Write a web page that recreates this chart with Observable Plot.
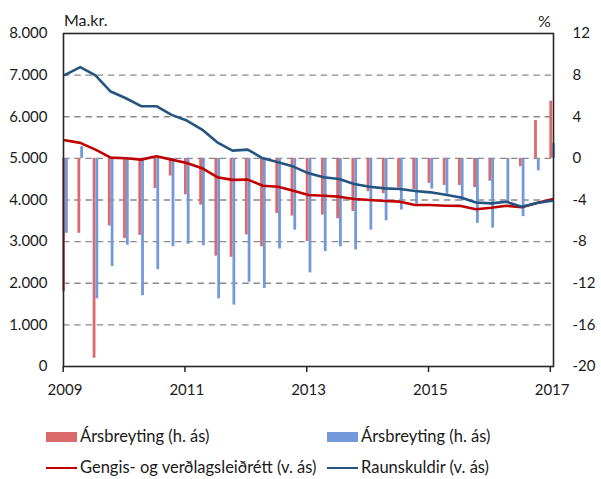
<!DOCTYPE html>
<html><head><meta charset="utf-8">
<script src="https://cdn.jsdelivr.net/npm/d3@7"></script>
<script src="https://cdn.jsdelivr.net/npm/@observablehq/plot@0.6"></script>
<style>
body{margin:0;background:#fff;}
#wrap{position:relative;width:601px;height:479px;font-family:Lato,sans-serif;color:#1a1a1a;background:#fff}
#chart{position:absolute;left:0;top:0}
.unit{position:absolute;font-size:16px;line-height:1;white-space:nowrap}
.leg{position:absolute;height:17px;font-size:16.5px;line-height:17px;white-space:nowrap;display:flex;align-items:center}
.sw{display:inline-block;width:31px;height:10px;margin-right:3px}
.ln{display:inline-block;width:31px;height:2px;margin-right:3px}
</style></head>
<body>
<div id="wrap">
  <div id="chart"></div>
  <div class="unit" style="left:64px;top:12px">Ma.kr.</div>
  <div class="unit" style="left:538px;top:13px">%</div>
  <div class="leg" style="left:46px;top:428px"><span class="sw" style="background:#DC6A6A"></span><span id="l1"></span></div>
  <div class="leg" style="left:327px;top:428px"><span class="sw" style="background:#7299DA"></span><span id="l2"></span></div>
  <div class="leg" style="left:46px;top:459px"><span class="ln" style="background:#C00000"></span><span id="l3"></span></div>
  <div class="leg" style="left:327px;top:459px"><span class="ln" style="background:#245480"></span><span id="l4"></span></div>
</div>
<script>
// Quarterly index 0..32 = 2009 Q1 .. 2017 Q1
const quarters = d3.range(0, 33);
// Ársbreyting (h. ás), red bars, %
const redBars = [-12.8, -7.2, -19.2, -6.5, -7.7, -7.4, -2.9, -1.7, -3.5, -4.5, -9.4, -9.5, -7.35, -8.5, -5.3, -5.55, -8.0, -5.45, -5.8, -5.1, -3.2, -3.4, -2.85, -3.0, -2.4, -2.6, -2.6, -2.8, -2.2, -0.1, -0.8, 3.65, 5.5];
// Ársbreyting (h. ás), blue bars, %
const blueBars = [-7.2, 1.13, -13.5, -10.4, -8.35, -13.2, -10.7, -8.5, -8.25, -8.4, -13.5, -14.1, -11.9, -12.5, -8.7, -6.9, -11.0, -8.95, -8.5, -8.8, -6.9, -6.0, -4.97, -4.4, -2.95, -3.45, -4.1, -6.25, -6.7, -4.2, -5.6, -1.2, 1.45];
// Gengis- og verðlagsleiðrétt (v. ás), ma.kr.
const gengis = [5434, 5372, 5210, 5018, 5002, 4970, 5049, 4970, 4890, 4764, 4547, 4483, 4490, 4344, 4320, 4224, 4120, 4103, 4080, 4024, 4000, 3976, 3960, 3880, 3880, 3863, 3858, 3778, 3812, 3862, 3825, 3930, 4020];
// Raunskuldir (v. ás), ma.kr.
const raun = [7008, 7192, 6992, 6606, 6445, 6253, 6253, 6045, 5908, 5692, 5386, 5187, 5210, 5002, 4906, 4802, 4641, 4545, 4506, 4385, 4320, 4280, 4264, 4216, 4184, 4125, 4060, 3940, 3918, 3957, 3838, 3926, 3983];

const leftTicks = [0, 1000, 2000, 3000, 4000, 5000, 6000, 7000, 8000];
const gridTicks = [1000, 2000, 3000, 4000, 5000, 6000, 7000];
const rightTicks = [12, 8, 4, 0, -4, -8, -12, -16, -20];
const yearLabels = ["2009", "2011", "2013", "2015", "2017"];
const yearIndex = [0, 8, 16, 24, 32];
const legendLabels = ["Ársbreyting (h. ás)", "Ársbreyting (h. ás)", "Gengis- og verðlagsleiðrétt (v. ás)", "Raunskuldir (v. ás)"];

// right axis (%) mapped onto left axis (ma.kr.): -20% ↔ 0, 12% ↔ 8000
const pct = d3.scaleLinear().domain([-20, 12]).range([0, 8000]);

const data = quarters.map(i => ({i, red: redBars[i], blue: blueBars[i], gengis: gengis[i], raun: raun[i]}));

const plot = Plot.plot({
  width: 601,
  height: 400,
  marginLeft: 63,
  marginRight: 48,
  marginTop: 33,
  marginBottom: 34,
  style: {fontFamily: "Lato, sans-serif", fontSize: "15px", color: "#1a1a1a", background: "transparent"},
  x: {type: "linear", domain: [-0.1, 32.09], axis: null},
  y: {domain: [0, 8000], axis: null},
  marks: [
    Plot.ruleY(gridTicks, {stroke: "#8a8a8a", strokeWidth: 1.3, strokeDasharray: "6.5,4.7"}),
    Plot.ruleX(data, {x: "i", y1: () => pct(0), y2: d => pct(d.red), stroke: "#DC6A6A", strokeWidth: 2.8, dx: -1.4}),
    Plot.ruleX(data, {x: "i", y1: () => pct(0), y2: d => pct(d.blue), stroke: "#7299DA", strokeWidth: 2.8, dx: 1.4}),
    Plot.line(data, {x: "i", y: "gengis", stroke: "#C00000", strokeWidth: 2.6}),
    Plot.line(data, {x: "i", y: "raun", stroke: "#245480", strokeWidth: 2.6}),
    Plot.frame({stroke: "#262626", strokeWidth: 1.6}),
    Plot.axisY({anchor: "left", ticks: leftTicks, tickFormat: d => d3.format(",")(d).replace(/,/g, "."), tickSize: 0, tickPadding: 16, label: null, fontSize: 15}),
    Plot.axisY({anchor: "right", ticks: rightTicks.map(p => pct(p)), tickFormat: v => String(Math.round(pct.invert(v))), tickSize: 0, tickPadding: 19, label: null, fontSize: 15}),
    Plot.axisX({ticks: yearIndex, tickFormat: i => yearLabels[yearIndex.indexOf(i)], tickSize: 0, tickPadding: 18, label: null, fontSize: 15}),
    Plot.axisX({ticks: yearIndex.map(i => i - 0.12), tickFormat: () => "", tickSize: 6, stroke: "#262626", strokeWidth: 1.5, label: null})
  ]
});
document.getElementById("chart").appendChild(plot);
["l1", "l2", "l3", "l4"].forEach((id, k) => document.getElementById(id).textContent = legendLabels[k]);
</script>
</body></html>
